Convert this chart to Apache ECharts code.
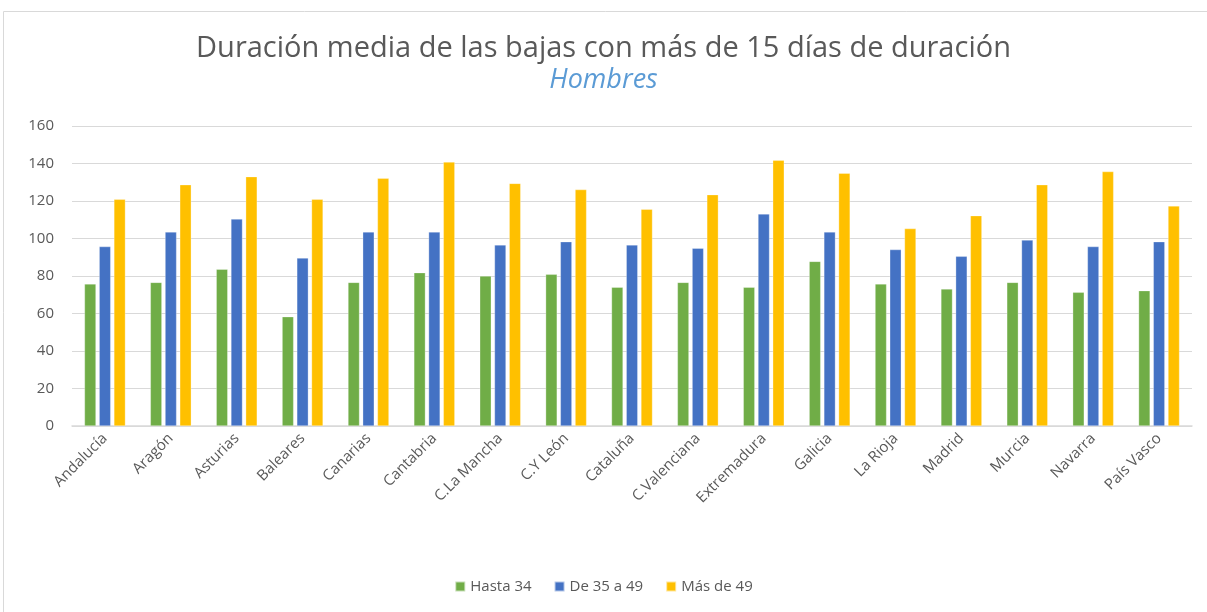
<!DOCTYPE html>
<html>
<head>
<meta charset="utf-8">
<script src="https://cdn.jsdelivr.net/npm/echarts@6/dist/echarts.min.js"></script>
<style>
html,body{margin:0;padding:0;background:#fff;}
#chart{width:1207px;height:612px;}
</style>
</head>
<body>
<div id="chart"></div>
<script>
const categories = ['Andalucía','Aragón','Asturias','Baleares','Canarias','Cantabria','C.La Mancha','C.Y León','Cataluña','C.Valenciana','Extremadura','Galicia','La Rioja','Madrid','Murcia','Navarra','País Vasco'];
const hasta34 = [75.8,76.6,83.6,58.3,76.6,81.8,80.0,80.9,74.0,76.6,74.0,87.8,75.8,73.1,76.6,71.3,72.2];
const de35a49 = [95.7,103.5,110.4,89.6,103.5,103.5,96.6,98.3,96.6,94.8,113.1,103.5,94.1,90.5,99.2,95.7,98.3];
const mas49 = [120.9,128.7,133.0,120.9,132.1,140.8,129.4,126.1,115.6,123.4,141.7,134.8,105.3,112.2,128.7,135.7,117.4];
const seriesNames = ['Hasta 34','De 35 a 49','Más de 49'];
const yTicks = [0,20,40,60,80,100,120,140,160];

const font = "'Open Sans', 'Noto Sans', sans-serif";
const chart = echarts.init(document.getElementById('chart'));
const mk = (name, data, color) => ({
  name, type:'bar', data, barWidth:11.5, barGap:'28%',
  itemStyle:{color, borderColor:'rgba(255,255,255,0.6)', borderWidth:0.5},
  emphasis:{disabled:true}
});
chart.setOption({
  animation:false,
  graphic:[{type:'rect', shape:{x:3.5,y:11.5,width:1210,height:610}, style:{fill:'none', stroke:'#d9d9d9', lineWidth:1}, silent:true}],
  title:{
    text:'Duración media de las bajas con más de 15 días de duración',
    subtext:'Hombres',
    left:'center', top:29, itemGap:4,
    textStyle:{fontFamily:font, fontSize:29, fontWeight:'normal', color:'#595959'},
    subtextStyle:{fontFamily:font, fontSize:27, fontStyle:'italic', color:'#5b9bd5'}
  },
  legend:{
    data:seriesNames, bottom:13, left:'center', itemWidth:10, itemHeight:10, icon:'rect', itemGap:22,
    textStyle:{fontFamily:font, fontSize:15, color:'#595959'}
  },
  grid:{left:72, right:15, top:126, bottom:186},
  xAxis:{
    type:'category', data:categories,
    axisLine:{lineStyle:{color:'#d9d9d9', width:1.5}},
    axisTick:{show:false},
    axisLabel:{rotate:45, interval:0, fontFamily:font, fontSize:15, color:'#595959', margin:10}
  },
  yAxis:{
    type:'value', min:yTicks[0], max:yTicks[yTicks.length-1], interval:20,
    axisLine:{show:false}, axisTick:{show:false},
    splitLine:{lineStyle:{color:'#d9d9d9', width:1.2}},
    axisLabel:{fontFamily:font, fontSize:15, color:'#595959', margin:18}
  },
  series:[mk(seriesNames[0], hasta34, '#70ad47'), mk(seriesNames[1], de35a49, '#4472c4'), mk(seriesNames[2], mas49, '#ffc000')]
});
</script>
</body>
</html>
